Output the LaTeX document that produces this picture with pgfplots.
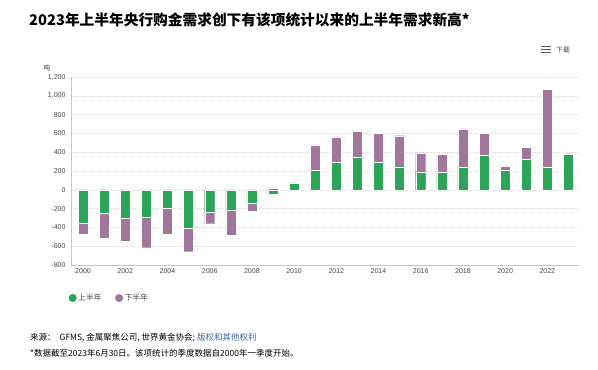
\documentclass[border=0pt]{standalone}
\usepackage{fontspec}
\setmainfont{Liberation Sans}
\newfontfamily\cjk{Noto Sans CJK SC}
\usepackage{pgfplots}
\pgfplotsset{compat=1.18}
\definecolor{hgreen}{RGB}{44,165,88}
\definecolor{hpurple}{RGB}{160,118,155}
\definecolor{tickgray}{RGB}{70,70,70}
\definecolor{gridgray}{RGB}{215,215,215}
\definecolor{linkblue}{RGB}{60,100,160}
\begin{document}
\begin{tikzpicture}[x=1pt,y=1pt]
\path[fill=white] (0,0) rectangle (598,-370);
\node[anchor=west, inner sep=0pt, font=\cjk\bfseries\fontsize{14.7}{17}\selectfont] at (29,-20) {2023年上半年央行购金需求创下有该项统计以来的上半年需求新高*};
\fill[gray!70!black] (541,-45.6) rectangle (551,-47.2);
\fill[gray!70!black] (541,-48.7) rectangle (551,-50.3);
\fill[gray!70!black] (541,-51.8) rectangle (551,-53.4);
\node[anchor=west, inner sep=0pt, font=\cjk\fontsize{6.8}{8}\selectfont, text=tickgray] at (556,-49.5) {下载};
\node[inner sep=0pt, font=\cjk\itshape\fontsize{6.8}{8}\selectfont, text=tickgray] at (47,-68) {吨};
\begin{axis}[
  at={(71pt,-265pt)}, anchor=south west, scale only axis,
  width=508pt, height=188pt,
  xmin=-0.57, xmax=23.5, ymin=-800, ymax=1200,
  ytick={-800,-600,...,1200},
  xtick={0,2,...,22},
  xticklabels={2000,2002,2004,2006,2008,2010,2012,2014,2016,2018,2020,2022},
  axis x line*=bottom, axis y line*=left,
  axis line style={draw=gray!45, line width=0.8pt, -},
  major tick length=0pt,
  ymajorgrids, grid style={gridgray, dash pattern=on 0.8pt off 1.2pt, line width=0.5pt},
  ticklabel style={font=\fontsize{7}{8}\selectfont, text=tickgray},
  yticklabel style={xshift=-2pt},
  /pgf/number format/assume math mode=true,
  /pgf/number format/1000 sep={,},
  legend style={at={(axis description cs:0,0)}, anchor=west, xshift=-5.5pt, yshift=-33pt,
    draw=none, fill=none, font=\cjk\fontsize{7.8}{9}\selectfont, text=tickgray,
    nodes={inner sep=1.5pt}, /tikz/every even column/.append style={column sep=12pt}},
  legend columns=2,
]
\addplot[ybar, bar width=10pt, bar shift=0pt, fill=hpurple, draw=white, line width=0.3pt, forget plot] coordinates {
(0,-474) (1,-517) (2,-542) (3,-616) (4,-474) (5,-658) (6,-361) (7,-481) (8,-227) (9,21)
(10,82) (11,477) (12,562) (13,628) (14,600) (15,576) (16,393) (17,376) (18,649) (19,600)
(20,253) (21,453) (22,1071)};
\addplot[ybar, bar width=10pt, bar shift=0pt, fill=hgreen, draw=white, line width=0.3pt, forget plot] coordinates {
(0,-357) (1,-251) (2,-297) (3,-290) (4,-191) (5,-404) (6,-234) (7,-216) (8,-142) (9,-50)
(10,74) (11,214) (12,291) (13,347) (14,291) (15,246) (16,193) (17,186) (18,239) (19,365)
(20,207) (21,323) (22,239) (23,383)};
\addlegendimage{legend image code/.code={\fill[hgreen] (3.8pt,0pt) circle (3.8pt);}}
\addlegendentry{上半年}
\addlegendimage{legend image code/.code={\fill[hpurple] (3.8pt,0pt) circle (3.8pt);}}
\addlegendentry{下半年}
\end{axis}
\node[anchor=west, inner sep=0pt, font=\cjk\fontsize{8.5}{10}\selectfont] at (30,-338) {来源：\hspace{4pt}GFMS, 金属聚焦公司, 世界黄金协会; \textcolor{linkblue}{版权和其他权利}};
\node[anchor=west, inner sep=0pt, font=\cjk\fontsize{8.5}{10}\selectfont] at (30,-353) {*数据截至2023年6月30日。该项统计的季度数据自2000年一季度开始。};
\end{tikzpicture}
\end{document}
